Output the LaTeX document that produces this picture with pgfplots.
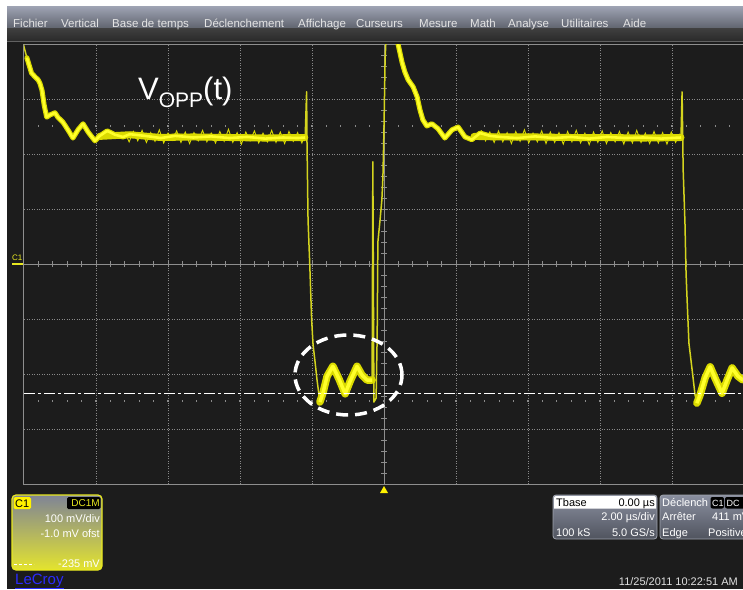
\documentclass[border=0pt]{standalone}
\usepackage{fontspec}
\setmainfont{Liberation Sans}
\usepackage{pgfplots}
\pgfplotsset{compat=1.18}

\definecolor{bg}{HTML}{1C1C1C}
\definecolor{gridc}{HTML}{8A8A8A}
\definecolor{framec}{HTML}{8E8E8E}
\definecolor{trband}{HTML}{DADA00}
\definecolor{trcore}{HTML}{FFFF2A}
\definecolor{tredge}{HTML}{D4D41E}
\definecolor{menutop}{HTML}{9CA1B1}
\definecolor{menubot}{HTML}{5E626C}
\definecolor{menudtop}{HTML}{3E3E3E}
\definecolor{menudbot}{HTML}{2A2A2A}
\definecolor{boxtop}{HTML}{8A8FA0}
\definecolor{boxbot}{HTML}{50545E}
\definecolor{boxedge}{HTML}{A0A4AE}
\definecolor{c1top}{HTML}{7F8496}
\definecolor{c1mid}{HTML}{8E9190}
\definecolor{c1bot}{HTML}{E4E42E}
\definecolor{cyel}{HTML}{E8E820}
\definecolor{lecroy}{HTML}{2B2BFF}

\begin{document}
\begin{tikzpicture}
\useasboundingbox (0,0) rectangle (743pt,589pt);
\clip (0,0) rectangle (743pt,589pt);

\begin{scope}[x=1pt,y=-1pt,yshift=589pt]
  \fill[white] (0,0) rectangle (743,589);
  \fill[bg] (7,42) rectangle (743,589);
  \shade[top color=menutop, bottom color=menubot] (7,7) rectangle (743,29);
  \shade[top color=menudtop, bottom color=menudbot] (7,29) rectangle (743,41);
  \fill[black!62] (7,41) rectangle (743,42.5);
  \foreach \t/\x in {Fichier/13, Vertical/61, Base de temps/112, Déclenchement/204, Affichage/298, Curseurs/356, Mesure/419, Math/470, Analyse/508, Utilitaires/561, Aide/623}
    \node[anchor=base west, inner sep=0, text=white!90!black, font=\fontsize{11.5}{11.5}\selectfont] at (\x,28) {\t};
  % centre graticule
  \draw[framec, line width=0.9pt] (24,264) -- (744,264);
  \draw[framec, line width=0.9pt] (384,44) -- (384,484);
  \foreach \k in {1,...,49}
    \draw[framec, line width=0.9pt] ({24+14.4*\k},261) -- ({24+14.4*\k},267);
  \foreach \k in {1,...,39}
    \draw[framec, line width=0.9pt] (381,{44+11*\k}) -- (387,{44+11*\k});
  \foreach \k in {1,...,49} {
    \fill[gridc] ({24+14.4*\k-0.6},125.5) rectangle ++(1.2,2);
    \fill[gridc] ({24+14.4*\k-0.6},400.5) rectangle ++(1.2,2);
  }
\end{scope}

\begin{axis}[
  at={(24pt,105pt)}, anchor=south west, scale only axis,
  width=720pt, height=440pt,
  xmin=-10, xmax=10, ymin=-400, ymax=400,
  xtick={-8,-6,-4,-2,2,4,6,8},
  ytick={-300,-200,-100,100,200,300},
  xticklabels={}, yticklabels={},
  major tick length=0pt,
  grid=major,
  major grid style={gridc, line width=0.7pt, dash pattern=on 1pt off 1.5pt},
  axis line style={framec, line width=1pt},
  clip=true,
]
% full trace (thin, edges)
\addplot[tredge, line width=1.5pt, line join=round] coordinates {
(-10.17,436) (-10.02,400) (-9.92,375) (-9.79,347) (-9.69,340) (-9.61,335) (-9.56,329) (-9.50,316) (-9.44,289) (-9.37,267) (-9.28,271) (-9.14,275) (-9.06,267) (-8.92,258) (-8.78,244) (-8.64,229) (-8.50,244) (-8.36,255) (-8.22,240) (-8.03,224) (-7.89,233) (-7.69,242) (-7.47,235) (-7.25,231) (-7.06,236) (-6.64,233) (-6.2,229) (-5.8,233) (-5.3,230) (-4.8,232) (-4.3,229) (-3.8,231) (-3.3,228) (-2.8,230) (-2.4,229) (-2.19,230)
(-2.15,313) (-2.14,226) (-2.11,80) (-2.06,-5) (-2.01,-102) (-1.97,-147) (-1.92,-175) (-1.86,-211) (-1.78,-251) (-1.69,-233) (-1.58,-204) (-1.42,-186) (-1.25,-209) (-1.08,-236) (-0.94,-213) (-0.75,-186) (-0.61,-202) (-0.47,-211) (-0.33,-211)
(-0.31,186) (-0.28,-251) (-0.22,-244) (-0.19,-133) (-0.17,40) (-0.11,80) (-0.06,116) (-0.03,158) (0,249) (0.03,371) (0.08,444) (0.19,498) (0.33,444)
(0.39,400) (0.5,367) (0.58,349) (0.67,335) (0.81,322) (0.92,304) (1.0,280) (1.08,262) (1.19,251) (1.33,255) (1.5,246) (1.69,229) (1.89,244) (2.06,249) (2.25,231) (2.44,226) (2.67,238) (2.94,233) (3.22,231) (3.7,229) (4.2,232) (4.7,229) (5.2,231) (5.7,228) (6.2,231) (6.7,229) (7.2,230) (7.7,228) (8.25,230)
(8.28,313) (8.31,171) (8.36,75) (8.39,-16) (8.42,-66) (8.47,-144) (8.56,-193) (8.64,-238) (8.69,-253) (8.78,-238) (8.92,-207) (9.06,-187) (9.22,-211) (9.39,-235) (9.53,-211) (9.67,-189) (9.83,-204) (9.97,-211) (10.11,-207)
};
% noisy bands
\addplot[trband, line width=5pt, line join=round, line cap=round] coordinates {
(-9.92,375) (-9.79,347) (-9.69,340) (-9.61,335) (-9.56,329) (-9.50,316) (-9.44,289) (-9.37,267) (-9.28,271) (-9.14,275) (-9.06,267) (-8.92,258) (-8.78,244) (-8.64,229) (-8.50,244) (-8.36,255) (-8.22,240) (-8.03,224) (-7.89,233) (-7.69,242) (-7.47,235) (-7.25,231) (-7.06,236) (-6.64,233) (-6.2,229) (-5.8,233) (-5.3,230) (-4.8,232) (-4.3,229) (-3.8,231) (-3.3,228) (-2.8,230) (-2.4,229) (-2.19,230)
};
\addplot[trband, line width=7.5pt, line join=round, line cap=round] coordinates {
(-1.78,-251) (-1.69,-233) (-1.58,-204) (-1.42,-186) (-1.25,-209) (-1.08,-236) (-0.94,-213) (-0.75,-186) (-0.61,-202) (-0.47,-211) (-0.33,-211)
};
\addplot[trband, line width=5pt, line join=round, line cap=round] coordinates {
(0.39,400) (0.5,367) (0.58,349) (0.67,335) (0.81,322) (0.92,304) (1.0,280) (1.08,262) (1.19,251) (1.33,255) (1.5,246) (1.69,229) (1.89,244) (2.06,249) (2.25,231) (2.44,226) (2.67,238) (2.94,233) (3.22,231) (3.7,229) (4.2,232) (4.7,229) (5.2,231) (5.7,228) (6.2,231) (6.7,229) (7.2,230) (7.7,228) (8.25,230)
};
\addplot[trband, line width=7.5pt, line join=round, line cap=round] coordinates {
(8.69,-253) (8.78,-238) (8.92,-207) (9.06,-187) (9.22,-211) (9.39,-235) (9.53,-211) (9.67,-189) (9.83,-204) (9.97,-211) (10.11,-207)
};
% flat-top bands (thicker)
\addplot[trband, line width=7pt, line join=round, line cap=round] coordinates {
(-7.9,232) (-7.06,235) (-6.2,230) (-5.3,231) (-4.3,230) (-3.3,229) (-2.4,230) (-2.2,230)
};
\addplot[trband, line width=7pt, line join=round, line cap=round] coordinates {
(2.5,232) (3.22,231) (4.2,231) (5.2,230) (6.2,230) (7.2,229) (8.25,230)
};
% noise texture on flat tops
\addplot[trband, line width=0.9pt] coordinates {
(-7.2,240) (-7.08,222) (-6.96,241) (-6.84,224) (-6.72,243) (-6.6,221) (-6.48,239) (-6.36,223) (-6.24,244) (-6.12,220) (-6.0,238) (-5.88,225) (-5.76,242) (-5.64,221) (-5.52,240) (-5.4,219) (-5.28,239) (-5.16,224) (-5.04,243) (-4.92,222) (-4.8,238) (-4.68,220) (-4.56,241) (-4.44,223) (-4.32,245) (-4.2,221) (-4.08,239) (-3.96,218) (-3.84,240) (-3.72,224) (-3.6,242) (-3.48,220) (-3.36,238) (-3.24,222) (-3.12,243) (-3.0,221) (-2.88,240) (-2.76,219) (-2.64,241) (-2.52,223) (-2.4,239) (-2.28,220) (-2.2,236)
};
\addplot[trband, line width=0.9pt] coordinates {
(2.7,243) (2.82,224) (2.94,240) (3.06,221) (3.18,242) (3.3,222) (3.42,239) (3.54,219) (3.66,241) (3.78,223) (3.9,244) (4.02,220) (4.14,238) (4.26,222) (4.38,242) (4.5,219) (4.62,240) (4.74,221) (4.86,239) (4.98,218) (5.1,241) (5.22,222) (5.34,243) (5.46,220) (5.58,238) (5.7,217) (5.82,240) (5.94,221) (6.06,242) (6.18,219) (6.3,239) (6.42,222) (6.54,241) (6.66,218) (6.78,240) (6.9,220) (7.02,243) (7.14,221) (7.26,238) (7.38,219) (7.5,241) (7.62,220) (7.74,239) (7.86,218) (7.98,240) (8.1,221) (8.22,237)
};
% bright cores
\addplot[trcore, line width=2.6pt, line join=round] coordinates {
(-9.92,375) (-9.79,347) (-9.69,340) (-9.61,335) (-9.56,329) (-9.50,316) (-9.44,289) (-9.37,267) (-9.28,271) (-9.14,275) (-9.06,267) (-8.92,258) (-8.78,244) (-8.64,229) (-8.50,244) (-8.36,255) (-8.22,240) (-8.03,224) (-7.89,233) (-7.69,242) (-7.47,235) (-7.25,231) (-7.06,236) (-6.64,233) (-6.2,229) (-5.8,233) (-5.3,230) (-4.8,232) (-4.3,229) (-3.8,231) (-3.3,228) (-2.8,230) (-2.4,229) (-2.19,230)
};
\addplot[trcore, line width=3.5pt, line join=round] coordinates {
(-1.78,-251) (-1.69,-233) (-1.58,-204) (-1.42,-186) (-1.25,-209) (-1.08,-236) (-0.94,-213) (-0.75,-186) (-0.61,-202) (-0.47,-211) (-0.33,-211)
};
\addplot[trcore, line width=2.6pt, line join=round] coordinates {
(0.39,400) (0.5,367) (0.58,349) (0.67,335) (0.81,322) (0.92,304) (1.0,280) (1.08,262) (1.19,251) (1.33,255) (1.5,246) (1.69,229) (1.89,244) (2.06,249) (2.25,231) (2.44,226) (2.67,238) (2.94,233) (3.22,231) (3.7,229) (4.2,232) (4.7,229) (5.2,231) (5.7,228) (6.2,231) (6.7,229) (7.2,230) (7.7,228) (8.25,230)
};
\addplot[trcore, line width=3.5pt, line join=round] coordinates {
(8.69,-253) (8.78,-238) (8.92,-207) (9.06,-187) (9.22,-211) (9.39,-235) (9.53,-211) (9.67,-189) (9.83,-204) (9.97,-211) (10.11,-207)
};
% cursor level -235 mV
\draw[white, line width=1.4pt, dash pattern=on 11pt off 3pt on 3pt off 3pt] (axis cs:-10,-235) -- (axis cs:10,-235);
\end{axis}

\begin{scope}[x=1pt,y=-1pt,yshift=589pt]
  % label
  \node[anchor=base west, inner sep=0, text=white] at (138,100)
    {\fontsize{31}{31}\selectfont V\raisebox{-7.5pt}{\fontsize{21}{21}\selectfont OPP}(t)};
  % dashed ellipse
  \draw[white, line width=3.5pt, dash pattern=on 12pt off 7pt] (348.5,375) ellipse [x radius=53.5pt, y radius=40pt];
  % channel marker
  \node[anchor=base west, inner sep=0, text=cyel, font=\fontsize{8}{8}\selectfont] at (12,261) {C1};
  \fill[cyel] (12,263) rectangle (23,265.5);
  % trigger marker
  \fill[yellow] (384,486) -- (388,493) -- (380,493) -- cycle;

  % C1 box
  \shade[rounded corners=4pt, top color=c1top, middle color=c1mid, bottom color=c1bot] (12,495) rectangle (102,570);
  \draw[cyel, line width=1.2pt, rounded corners=4pt] (12,495) rectangle (102,570);
  \fill[yellow, rounded corners=1.5pt] (13.5,497) rectangle (31,509);
  \node[anchor=base west, inner sep=0, font=\fontsize{11}{11}\selectfont] at (15,507) {C1};
  \fill[black, rounded corners=1.5pt] (67,497) rectangle (100.5,509);
  \node[anchor=base east, inner sep=0, text=cyel, font=\fontsize{10}{10}\selectfont] at (100,506.5) {DC1M};
  \node[anchor=base east, inner sep=0, text=white, font=\fontsize{11}{11}\selectfont] at (100,522.5) {100 mV/div};
  \node[anchor=base east, inner sep=0, text=white, font=\fontsize{11}{11}\selectfont] at (100,537) {-1.0 mV ofst};
  \node[anchor=base east, inner sep=0, text=white, font=\fontsize{11}{11}\selectfont] at (100,567.5) {-235 mV};
  \draw[white, line width=1pt, dash pattern=on 3pt off 2pt] (14,564) -- (34,564);
  \node[anchor=base west, inner sep=0, text=lecroy, font=\fontsize{15}{15}\selectfont] at (15,584) {\underline{LeCroy}};

  % Tbase box
  \shade[rounded corners=3pt, top color=boxtop, bottom color=boxbot] (553,495) rectangle (657,539);
  \draw[boxedge, line width=0.8pt, rounded corners=3pt] (553,495) rectangle (657,539);
  \fill[white] (554,508.5) [rounded corners=2pt] -- (554,496) -- (656,496) [sharp corners] -- (656,508.5) -- cycle;
  \node[anchor=base west, inner sep=0, font=\fontsize{11}{11}\selectfont] at (556,506.5) {Tbase};
  \node[anchor=base east, inner sep=0, font=\fontsize{11}{11}\selectfont] at (655,506.5) {0.00 µs};
  \node[anchor=base east, inner sep=0, text=white, font=\fontsize{11}{11}\selectfont] at (655,520.5) {2.00 µs/div};
  \node[anchor=base west, inner sep=0, text=white, font=\fontsize{11}{11}\selectfont] at (556,536) {100 kS};
  \node[anchor=base east, inner sep=0, text=white, font=\fontsize{11}{11}\selectfont] at (655,536) {5.0 GS/s};

  % Trigger box
  \shade[rounded corners=3pt, top color=boxtop, bottom color=boxbot] (660,495) rectangle (780,539);
  \draw[boxedge, line width=0.8pt, rounded corners=3pt] (660,495) rectangle (780,539);
  \node[anchor=base west, inner sep=0, text=white, font=\fontsize{11}{11}\selectfont] at (662,506.5) {Déclench};
  \fill[black, rounded corners=2pt] (710.5,497) rectangle (724,508.5);
  \node[anchor=base west, inner sep=0, text=white, font=\fontsize{9}{9}\selectfont] at (712,506) {C1};
  \fill[black, rounded corners=2pt] (725,497) rectangle (750,508.5);
  \node[anchor=base west, inner sep=0, text=white, font=\fontsize{9}{9}\selectfont] at (726.5,506) {DC};
  \node[anchor=base west, inner sep=0, text=white, font=\fontsize{11}{11}\selectfont] at (662,520.5) {Arrêter};
  \node[anchor=base west, inner sep=0, text=white, font=\fontsize{11}{11}\selectfont] at (712,520.5) {411 mV};
  \node[anchor=base west, inner sep=0, text=white, font=\fontsize{11}{11}\selectfont] at (662,536) {Edge};
  \node[anchor=base west, inner sep=0, text=white, font=\fontsize{11}{11}\selectfont] at (708,536) {Positive};

  % date
  \node[anchor=base east, inner sep=0, text=white!88!black, font=\fontsize{11}{11}\selectfont] at (738,585) {11/25/2011 10:22:51 AM};
\end{scope}
\end{tikzpicture}
\end{document}
